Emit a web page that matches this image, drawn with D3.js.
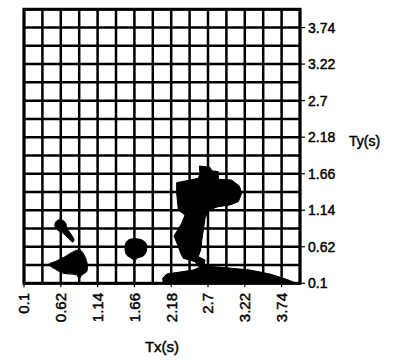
<!DOCTYPE html>
<html>
<head>
<meta charset="utf-8">
<script src="https://cdn.jsdelivr.net/npm/d3@7"></script>
<style>
  html, body { margin: 0; padding: 0; background: #fff; }
  svg { display: block; }
  text { font-family: "Liberation Sans", Arial, sans-serif; fill: #000; stroke: #000; stroke-width: 0.45px; }
</style>
</head>
<body>
<svg id="chart" width="405" height="360"></svg>
<script>
// Axis ticks (seconds)
const txTicks = [0.1, 0.62, 1.14, 1.66, 2.18, 2.7, 3.22, 3.74];
const tyTicks = [0.1, 0.62, 1.14, 1.66, 2.18, 2.7, 3.22, 3.74];
const tickLabels = ["0.1", "0.62", "1.14", "1.66", "2.18", "2.7", "3.22", "3.74"];
const gridStep = 0.26;
const axisMin = 0.1, axisMax = 4.0;

// Filled regions, each as a closed outline of [Tx, Ty] points
const regionMain = [
  [2.577, 1.770], [2.728, 1.751], [2.752, 1.703], [2.846, 1.689], [2.846, 1.580],
  [3.034, 1.570], [3.143, 1.485], [3.176, 1.381], [3.129, 1.262], [3.011, 1.215],
  [2.846, 1.191], [2.705, 1.143], [2.658, 1.025], [2.634, 0.859], [2.610, 0.693],
  [2.596, 0.574], [2.563, 0.479], [2.658, 0.432], [2.643, 0.346], [2.893, 0.327],
  [3.293, 0.289], [3.576, 0.232], [3.811, 0.156], [3.950, 0.100], [2.069, 0.100],
  [2.059, 0.171], [2.116, 0.232], [2.493, 0.289], [2.577, 0.327], [2.516, 0.408],
  [2.351, 0.455], [2.314, 0.527], [2.281, 0.621], [2.220, 0.773], [2.328, 0.954],
  [2.375, 1.072], [2.281, 1.143], [2.257, 1.381], [2.257, 1.532], [2.563, 1.594],
  [2.587, 1.665]
];
const regionTriangle = [
  [0.891, 0.574], [0.962, 0.479], [0.995, 0.360], [0.985, 0.266], [0.915, 0.218],
  [0.882, 0.170], [0.844, 0.218], [0.656, 0.242], [0.562, 0.289], [0.450, 0.370],
  [0.538, 0.408], [0.679, 0.479], [0.797, 0.550]
];
const regionDrop = [
  [0.585, 1.001], [0.656, 0.992], [0.693, 0.944], [0.703, 0.882], [0.750, 0.821],
  [0.807, 0.716], [0.788, 0.688], [0.726, 0.740], [0.656, 0.811], [0.585, 0.849],
  [0.538, 0.906], [0.543, 0.963]
];
const regionRound = [
  [1.598, 0.726], [1.739, 0.726], [1.824, 0.669], [1.833, 0.574], [1.786, 0.489],
  [1.692, 0.455], [1.668, 0.408], [1.621, 0.455], [1.551, 0.503], [1.527, 0.598],
  [1.541, 0.678]
];

const svg = d3.select("#chart");
const plotLeft = 24, plotRight = 300, plotTop = 9.3, plotBottom = 283.3;

const x = d3.scaleLinear().domain([axisMin, axisMax]).range([plotLeft, plotRight]);
const y = d3.scaleLinear().domain([axisMin, axisMax]).range([plotBottom, plotTop]);

const gridVals = d3.range(axisMin, axisMax + 1e-6, gridStep);

// Grid
const grid = svg.append("g").attr("stroke", "#000").attr("stroke-width", 2.5);
grid.selectAll("line.v").data(gridVals).join("line")
  .attr("class", "v")
  .attr("x1", d => x(d)).attr("x2", d => x(d))
  .attr("y1", plotTop).attr("y2", plotBottom);
grid.selectAll("line.h").data(gridVals).join("line")
  .attr("class", "h")
  .attr("x1", plotLeft).attr("x2", plotRight)
  .attr("y1", d => y(d)).attr("y2", d => y(d));

// Filled regions
const line = d3.line().x(d => x(d[0])).y(d => y(d[1]));
const regions = [
  { pts: regionMain, curve: d3.curveLinearClosed },
  { pts: regionTriangle, curve: d3.curveCatmullRomClosed.alpha(0.5) },
  { pts: regionDrop, curve: d3.curveCatmullRomClosed.alpha(0.5) },
  { pts: regionRound, curve: d3.curveCatmullRomClosed.alpha(0.5) }
];
svg.append("g").selectAll("path").data(regions).join("path")
  .attr("d", r => line.curve(r.curve)(r.pts))
  .attr("fill", "#000").attr("stroke", "#000").attr("stroke-width", 1);

// Frame
svg.append("rect")
  .attr("x", plotLeft).attr("y", plotTop)
  .attr("width", plotRight - plotLeft).attr("height", plotBottom - plotTop)
  .attr("fill", "none").attr("stroke", "#000").attr("stroke-width", 3);

// Bottom axis: rotated labels
const xAxis = svg.append("g");
xAxis.selectAll("line").data(txTicks).join("line")
  .attr("x1", d => x(d)).attr("x2", d => x(d))
  .attr("y1", plotBottom).attr("y2", plotBottom + 4)
  .attr("stroke", "#000").attr("stroke-width", 1.2);
xAxis.selectAll("text").data(txTicks).join("text")
  .attr("transform", d => `translate(${x(d)},293) rotate(-90)`)
  .attr("text-anchor", "end")
  .attr("dy", "0.36em")
  .style("font-size", "15px")
  .text((d, i) => tickLabels[i]);
svg.append("text")
  .attr("x", (plotLeft + plotRight) / 2).attr("y", 352)
  .attr("text-anchor", "middle")
  .style("font-size", "15px")
  .text("Tx(s)");

// Right axis
const yAxis = svg.append("g");
yAxis.selectAll("line").data(tyTicks).join("line")
  .attr("x1", plotRight).attr("x2", plotRight + 5)
  .attr("y1", d => y(d)).attr("y2", d => y(d))
  .attr("stroke", "#000").attr("stroke-width", 1.2);
yAxis.selectAll("text").data(tyTicks).join("text")
  .attr("x", 308).attr("y", d => y(d))
  .attr("dy", "0.36em")
  .style("font-size", "14px")
  .text((d, i) => tickLabels[i]);
svg.append("text")
  .attr("x", 349).attr("y", 141)
  .attr("dy", "0.36em")
  .style("font-size", "14px")
  .text("Ty(s)");
</script>
</body>
</html>
